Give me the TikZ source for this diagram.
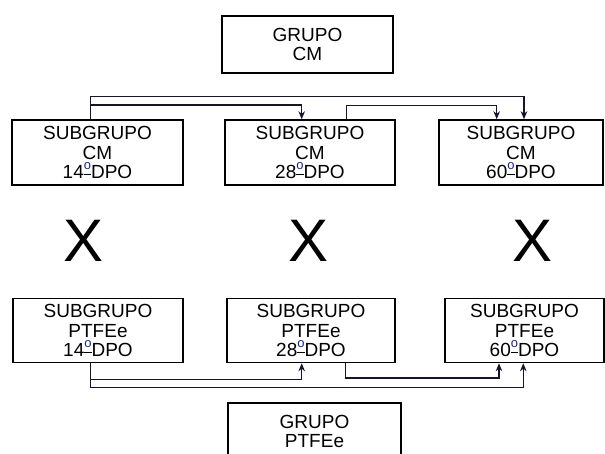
\documentclass[tikz,border=0pt]{standalone}
\usepackage{fontspec}
\setmainfont{Liberation Sans}
\usetikzlibrary{arrows.meta}
\definecolor{ordblue}{RGB}{30,30,150}
\definecolor{linkcol}{RGB}{20,20,45}
\newcommand{\grau}{\rlap{\rule[3.3pt]{7.2pt}{1pt}}\raisebox{9.5pt}{\fontsize{13}{13}\selectfont\color{ordblue}o}}
\tikzset{
  caixa/.style={draw,line width=1.5pt,inner sep=0pt,align=center,
    font=\fontsize{19}{19.5}\selectfont},
  link/.style={draw=linkcol,line width=1.5pt,-{Stealth[length=8pt,width=6.5pt]}},
  cruz/.style={font=\fontsize{60}{60}\selectfont}
}
\begin{document}
\begin{tikzpicture}[x=1pt,y=-1pt]
\useasboundingbox (0,0) rectangle (605,453);
\clip (0,0) rectangle (605,453);
\node[caixa,minimum width=171pt,minimum height=57pt] (gcm) at (307.5,44.5) {GRUPO\\CM};
\foreach \i/\x/\w/\d in {1/97.5/171/14,2/310/170/28,3/521/164/60} {
    \node[caixa,minimum width=\w pt,minimum height=65pt] (s\i) at (\x,152.5) {SUBGRUPO\\CM\\\d\grau DPO};
}
\foreach \i/\x/\w/\d in {1/98/170/14,2/311/168/28,3/524.5/159/60} {
    \node[caixa,minimum width=\w pt,minimum height=64pt] (p\i) at (\x,330.5) {SUBGRUPO\\PTFEe\\\d\grau DPO};
}
\foreach \i/\x in {1/84,2/309,3/533} {
    \node[cruz] (x\i) at (\x,241) {X};
}
\node[caixa,minimum width=173pt,minimum height=57pt] (gpt) at (314.5,431.5) {GRUPO\\PTFEe};
% knees of the connectors
\coordinate (ka) at (90.7,96.5);
\coordinate (ta) at (524,96.5);
\coordinate (kb) at (90.7,105);
\coordinate (tb) at (301.7,105);
\coordinate (kc) at (346.7,105.5);
\coordinate (tc) at (496.7,105.5);
\coordinate (kd) at (90.7,387.5);
\coordinate (td) at (523.3,387.5);
\coordinate (ke) at (90.7,379.3);
\coordinate (te) at (301.7,379.3);
\coordinate (kf) at (345.7,378);
\coordinate (tf) at (499,378);
\draw[link] (s1.north -| ka) -- (ka) -- (ta) -- (s3.north -| ta);
\draw[link] (kb) -- (tb) -- (s2.north -| tb);
\draw[link] (s2.north -| kc) -- (kc) -- (tc) -- (s3.north -| tc);
\draw[link] (p1.south -| kd) -- (kd) -- (td) -- (p3.south -| td);
\draw[link] (ke) -- (te) -- (p2.south -| te);
\draw[link] (p2.south -| kf) -- (kf) -- (tf) -- (p3.south -| tf);
\end{tikzpicture}
\end{document}
